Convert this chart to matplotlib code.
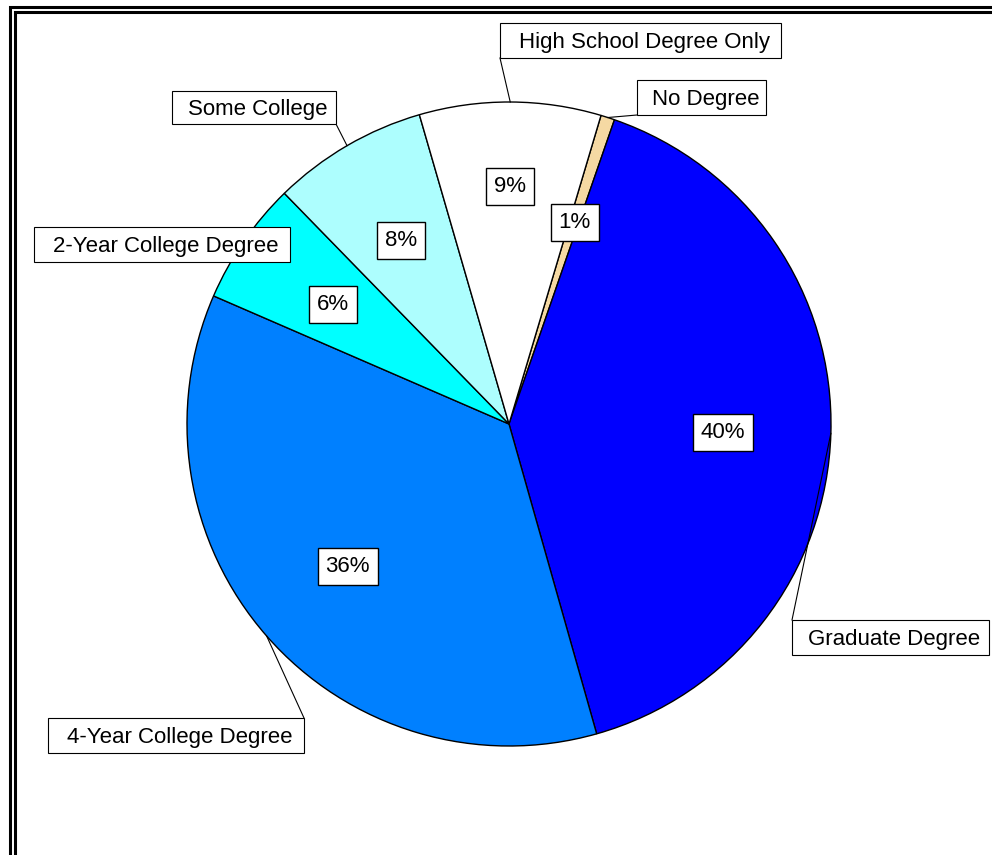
import numpy as np
import matplotlib
matplotlib.use("Agg")
import matplotlib.pyplot as plt
from matplotlib.patches import Rectangle

plt.rcParams["font.family"] = ["Liberation Sans", "DejaVu Sans"]

# data (clockwise from the top)
categories = ["No Degree", "Graduate Degree", "4-Year College Degree",
              "2-Year College Degree", "Some College", "High School Degree Only"]
shares = [0.7, 40.3, 35.9, 6.2, 7.8, 9.1]
colors = ["#F5D9A3", "#0000FF", "#0080FF", "#00FFFF", "#ADFEFE", "#FFFFFF"]

W, H = 992, 855
fig = plt.figure(figsize=(W / 100, H / 100), dpi=100)
ax = fig.add_axes([0, 0, 1, 1])

cx, cy, R = 509, H - 424, 322
wedges, texts, autotexts = ax.pie(
    shares, colors=colors, startangle=73.4, counterclock=False,
    center=(cx, cy), radius=R, autopct="%.0f%%", pctdistance=0.665,
    wedgeprops=dict(edgecolor="black", linewidth=1),
    textprops=dict(fontsize=16))

for w, t in zip(wedges, autotexts):
    dist = 0.745 if t is autotexts[5] else 0.665   # high school label sits further out
    mid = np.deg2rad((w.theta1 + w.theta2) / 2)
    t.set_position((cx + dist * R * np.cos(mid), cy + dist * R * np.sin(mid) - 2))
    t.set_bbox(dict(boxstyle="square,pad=0.36", fc="white", ec="black", lw=1))
    t.set_zorder(5)

# outer label boxes: (left, top, right, bottom) in pixels from the top-left, leader corner
boxes = {
    "No Degree": ((637, 80, 766, 115), "bl"),
    "Graduate Degree": ((792, 620, 989, 655), "tl"),
    "4-Year College Degree": ((48, 718, 304, 753), "tr"),
    "2-Year College Degree": ((34, 227, 290, 262), "br"),
    "Some College": ((172, 91, 336, 124), "br"),
    "High School Degree Only": ((500, 23, 781, 58), "bl"),
}

for w, name in zip(wedges, categories):
    (x0, y0, x1, y1), corner = boxes[name]
    mid = np.deg2rad((w.theta1 + w.theta2) / 2)
    ex, ey = cx + R * np.cos(mid), cy + R * np.sin(mid)
    kx = x0 if corner[1] == "l" else x1
    ky = y1 if corner[0] == "b" else y0
    ax.plot([ex, kx], [ey, H - ky], color="black", lw=0.8, zorder=2)
    ax.add_patch(Rectangle((x0, H - y1), x1 - x0, y1 - y0, fc="white",
                           ec="black", lw=0.8, zorder=3))
    ax.text((x0 + x1) / 2 + 4, H - (y0 + y1) / 2 - 2, name, fontsize=16,
            ha="center", va="center", zorder=4)

# double frame along the top and left
ax.plot([9.5, 9.5, W], [0, H - 7.5, H - 7.5], color="black", lw=2.2,
        solid_joinstyle="miter", clip_on=False)
ax.plot([14.5, 14.5, W], [0, H - 12.5, H - 12.5], color="black", lw=2.2,
        solid_joinstyle="miter", clip_on=False)

ax.set_xlim(0, W)
ax.set_ylim(0, H)
ax.set_aspect("auto")
ax.axis("off")

fig.savefig("out.png", dpi=100)
